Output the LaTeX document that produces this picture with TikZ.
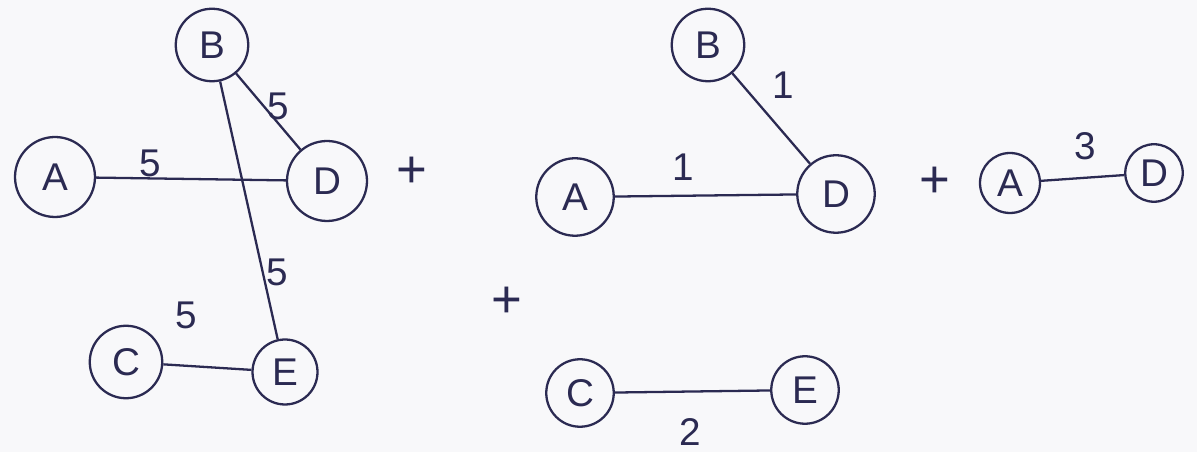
\documentclass[tikz,border=0pt]{standalone}
\usepackage{fontspec}
\setmainfont{Liberation Sans}
\definecolor{encre}{HTML}{2B2A52}
\definecolor{papier}{HTML}{F8F8FA}
\tikzset{
  sommet/.style={draw=encre, circle, line width=1.3pt, minimum size=1.45cm, inner sep=0pt, text=encre, font=\fontsize{22}{26}\selectfont},
  poids/.style={text=encre, font=\fontsize{22}{26}\selectfont},
  plus/.style={text=encre, font=\fontsize{30}{34}\selectfont},
  arete/.style={encre, line width=1.3pt},
}
\begin{document}
\begin{tikzpicture}[x=0.02cm, y=-0.02cm]
% fond et cadre
\fill[papier] (0,0) rectangle (1197,452);
\useasboundingbox (0,0) rectangle (1197,452);

% graphe complet
\node[sommet, minimum size=1.6cm] (A1) at (55,177) {A};
\node[sommet] (B1) at (212,45) {B};
\node[sommet, minimum size=1.6cm] (D1) at (327,181) {D};
\node[sommet] (C1) at (126,362) {C};
\node[sommet, minimum size=1.3cm] (E1) at (285,372) {E};
\draw[arete] (A1) -- (D1);
\draw[arete] (B1) -- (D1);
\draw[arete] (B1) -- (E1);
\draw[arete] (C1) -- (E1);
\node[poids] (wAD1) at (150,163) {5};
\node[poids] (wBD1) at (278,106) {5};
\node[poids] (wBE1) at (277,272) {5};
\node[poids] (wCE1) at (186,315) {5};
\node[plus] (p1) at (412,172) {+};

% premier terme
\node[sommet] (B2) at (708,45) {B};
\node[sommet, minimum size=1.55cm] (A2) at (575,197) {A};
\node[sommet, minimum size=1.55cm] (D2) at (836,194) {D};
\draw[arete] (A2) -- (D2);
\draw[arete] (B2) -- (D2);
\node[poids] (wAD2) at (683,167) {1};
\node[poids] (wBD2) at (783,85) {1};
\node[plus] (p2) at (507,302) {+};

% deuxieme terme
\node[sommet, minimum size=1.35cm] (C2) at (580,393) {C};
\node[sommet, minimum size=1.35cm] (E2) at (805,390) {E};
\draw[arete] (C2) -- (E2);
\node[poids] (wCE2) at (690,432) {2};

% troisieme terme
\node[plus] (p3) at (935,182) {+};
\node[sommet, minimum size=1.2cm] (A3) at (1010,183) {A};
\node[sommet, minimum size=1.15cm] (D3) at (1154,173) {D};
\draw[arete] (A3) -- (D3);
\node[poids] (wAD3) at (1085,146) {3};
\end{tikzpicture}
\end{document}
